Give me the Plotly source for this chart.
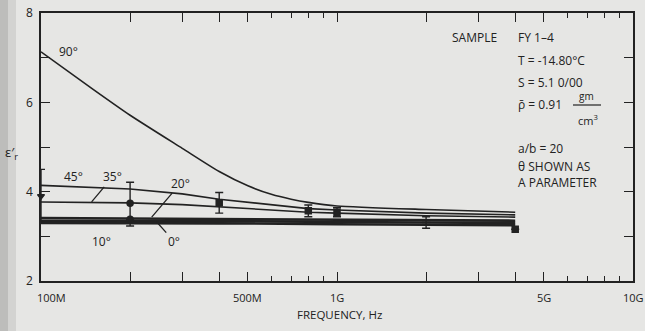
import math
import plotly.graph_objects as go

# Real part of relative permittivity of sea ice vs frequency, theta as parameter
freq_90_mhz = [100, 150, 200, 300, 400, 500, 600, 700, 800, 1000, 2000, 4000]
eps_90 = [7.13, 6.29, 5.71, 4.97, 4.45, 4.13, 3.94, 3.83, 3.76, 3.68, 3.60, 3.54]

freq_mhz = [100, 200, 300, 400, 800, 1000, 2000, 4000]
eps_45 = [4.14, 4.06, 3.95, 3.83, 3.62, 3.59, 3.52, 3.48]
eps_35 = [3.77, 3.75, 3.71, 3.66, 3.54, 3.52, 3.46, 3.43]
eps_20 = [3.41, 3.40, 3.39, 3.39, 3.38, 3.37, 3.36, 3.35]
eps_10 = [3.35, 3.35, 3.34, 3.34, 3.33, 3.32, 3.31, 3.30]
eps_0 = [3.30, 3.30, 3.29, 3.29, 3.28, 3.27, 3.26, 3.25]

# Measured values with error ranges
meas_freq_mhz = [100, 200, 200, 400, 800, 1000, 2000, 4000]
meas_eps = [3.90, 3.74, 3.38, 3.75, 3.57, 3.54, 3.31, 3.16]
meas_err_plus = [0.60, 0.47, 0.0, 0.23, 0.13, 0.10, 0.13, 0.0]
meas_err_minus = [0.55, 0.51, 0.0, 0.23, 0.13, 0.10, 0.13, 0.0]
meas_symbols = ["triangle-down", "circle", "circle", "square", "square", "square", "line-ew", "square"]

major_ticks_hz = [1e8, 2e8, 3e8, 4e8, 5e8, 1e9, 2e9, 3e9, 4e9, 5e9, 1e10]
minor_ticks_hz = [6e8, 7e8, 8e8, 9e8, 6e9, 7e9, 8e9, 9e9]
x_label_vals = [1e8, 5e8, 1e9, 5e9, 1e10]
x_label_text = ["100M", "500M", "1G", "5G", "10G"]
y_ticks = [2, 3, 4, 5, 6, 7, 8]
y_tick_text = ["2", "", "4", "", "6", "", "8"]

INK = "#222222"
PAPER = "#e6e6e4"
FONT = "Open Sans"

fig = go.Figure()


def hz(values):
    return [v * 1e6 for v in values]


fig.add_trace(go.Scatter(x=hz(freq_90_mhz), y=eps_90, mode="lines",
                         line=dict(color=INK, width=1.6, shape="spline", smoothing=0.6),
                         showlegend=False, hoverinfo="skip"))
for series, width in [(eps_45, 1.6), (eps_35, 1.6), (eps_20, 2.6), (eps_10, 2.6), (eps_0, 2.6)]:
    fig.add_trace(go.Scatter(x=hz(freq_mhz), y=series, mode="lines",
                             line=dict(color=INK, width=width),
                             showlegend=False, hoverinfo="skip"))

fig.add_trace(go.Scatter(
    x=hz(meas_freq_mhz), y=meas_eps, mode="markers", cliponaxis=False,
    marker=dict(symbol=meas_symbols, size=6, color=INK,
                line=dict(color=INK, width=1.5)),
    error_y=dict(type="data", symmetric=False, array=meas_err_plus,
                 arrayminus=meas_err_minus, color=INK, thickness=1.4, width=4),
    showlegend=False, hoverinfo="skip"))

ann = []
txt = dict(color=INK, size=12, family=FONT)
mid = dict(xanchor="center", yanchor="middle")

# theta labels with leader lines
ann.append(dict(x=8.093, y=7.13, text="90°", showarrow=False, font=txt, **mid))
ann.append(dict(x=8.110, y=4.35, text="45°", showarrow=False, font=txt, **mid))
leader = dict(showarrow=True, arrowhead=0, arrowwidth=1.3, arrowcolor=INK, font=txt)
ann.append(dict(x=8.171, y=3.77, text="35°", ax=21, ay=-25, **leader))
ann.append(dict(x=8.374, y=3.43, text="20°", ax=29, ay=-34, **leader))
ann.append(dict(x=8.137, y=3.30, text="10°", ax=20, ay=19, **leader))
ann.append(dict(x=8.391, y=3.32, text="0°", ax=17, ay=19, **leader))

# x tick labels
for v, t in zip(x_label_vals, x_label_text):
    shift = 10 if v == 1e8 else 0
    ann.append(dict(x=math.log10(v), y=0, yref="paper", text=t, showarrow=False,
                    xanchor="center", yanchor="top", yshift=-7, xshift=shift,
                    font=dict(color=INK, size=11, family=FONT)))

# axis titles
ann.append(dict(x=0.505, y=0, xref="paper", yref="paper", text="FREQUENCY, Hz",
                showarrow=False, xanchor="center", yanchor="middle", yshift=-33,
                font=dict(color=INK, size=11.5, family=FONT)))
ann.append(dict(x=-0.049, y=0.478, xref="paper", yref="paper", text="ε′<sub>r</sub>",
                showarrow=False, font=dict(color=INK, size=13, family=FONT), **mid))

# sample description block (pixel-based placement in paper coords)
L, W, T, H = 41, 592, 13, 268


def px(x):
    return (x - L) / W


def py(y):
    return 1 - (y - T) / H


left_mid = dict(xanchor="left", yanchor="middle", showarrow=False, xref="paper", yref="paper")
ann.append(dict(x=px(450), y=py(37), text="SAMPLE", font=txt, **left_mid))
block = [("FY 1–4", 37), ("T = -14.80°C", 60), ("S = 5.1 0/00", 82),
         ("ρ̄ = 0.91", 104), ("a/b = 20", 148), ("θ SHOWN AS", 166), ("A PARAMETER", 182)]
for t, y in block:
    ann.append(dict(x=px(516), y=py(y), text=t, font=txt, **left_mid))
ann.append(dict(x=px(577), y=py(96), text="gm", font=dict(color=INK, size=10, family=FONT), **left_mid))
ann.append(dict(x=px(576), y=py(120), text="cm<sup>3</sup>", font=dict(color=INK, size=11, family=FONT), **left_mid))

shapes = [
    dict(type="line", xref="paper", yref="paper", x0=px(573), x1=px(601), y0=py(105), y1=py(105),
         line=dict(color=INK, width=1.2)),
    # darker scan edge on the left
    dict(type="rect", xref="paper", yref="paper", x0=px(0), x1=px(8), y0=-1, y1=2,
         fillcolor="#bdbdbb", line=dict(width=0), layer="below"),
    dict(type="rect", xref="paper", yref="paper", x0=px(8), x1=px(16), y0=-1, y1=2,
         fillcolor="#d3d3d1", line=dict(width=0), layer="below"),
]

fig.update_layout(
    width=645, height=331,
    margin=dict(l=41, r=12, t=13, b=50, autoexpand=False),
    paper_bgcolor=PAPER, plot_bgcolor=PAPER,
    annotations=ann, shapes=shapes,
    font=dict(family=FONT, color=INK),
    xaxis=dict(type="log", range=[8, 10], tickvals=major_ticks_hz,
               showticklabels=False, ticks="inside", ticklen=9, tickwidth=1.3, tickcolor=INK,
               minor=dict(tickvals=minor_ticks_hz, ticks="inside", ticklen=5, tickwidth=1.2, tickcolor=INK),
               showline=True, linecolor=INK, linewidth=1.6, mirror="allticks",
               showgrid=False, zeroline=False),
    yaxis=dict(range=[2, 8], tickvals=y_ticks, ticktext=y_tick_text,
               ticks="inside", ticklen=9, tickwidth=1.3, tickcolor=INK,
               tickfont=dict(size=12, color=INK, family=FONT), ticklabelstandoff=4,
               showline=True, linecolor=INK, linewidth=1.6, mirror="allticks",
               showgrid=False, zeroline=False),
)

fig.write_html("out.html")
